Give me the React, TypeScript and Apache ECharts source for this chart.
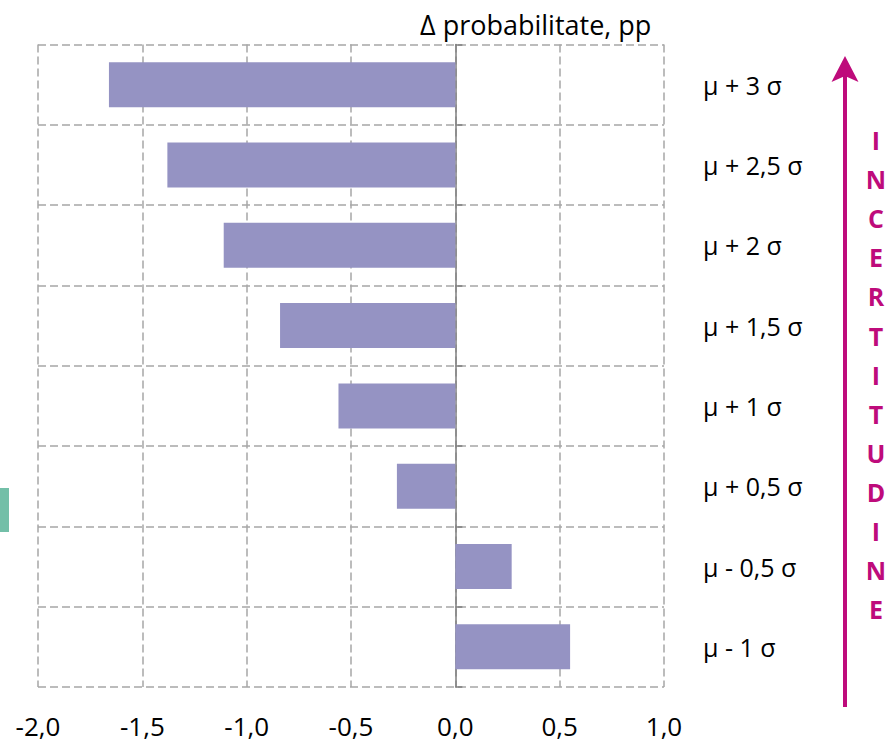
import React, { useEffect, useRef } from "react";
import * as echarts from "echarts";

const categories = ["μ + 3 σ", "μ + 2,5 σ", "μ + 2 σ", "μ + 1,5 σ", "μ + 1 σ", "μ + 0,5 σ", "μ - 0,5 σ", "μ - 1 σ"];
const values = [-1.66, -1.38, -1.11, -0.84, -0.56, -0.28, 0.27, 0.55];
const xMin = -2;
const xMax = 1;
const xInterval = 0.5;
const titleText = "Δ probabilitate, pp";
const sideLetters = ["I", "N", "C", "E", "R", "T", "I", "T", "U", "D", "I", "N", "E"];

const FONT = "'Open Sans', 'Noto Sans', sans-serif";
const MAGENTA = "#BE0B7B";
const GRID_LEFT = 38;
const GRID_RIGHT_PX = 664;
const ZERO_OFFSET = -((0 - xMin) / (xMax - xMin)) * (GRID_RIGHT_PX - GRID_LEFT);

export default function App() {
  const ref = useRef<HTMLDivElement>(null);
  useEffect(() => {
    if (!ref.current) return;
    const chart = echarts.init(ref.current, undefined, { renderer: "svg" });
    chart.setOption({
      animation: false,
      textStyle: { fontFamily: FONT },
      grid: { left: GRID_LEFT, right: 887 - GRID_RIGHT_PX, top: 44.5, bottom: 56, containLabel: false },
      xAxis: {
        type: "value",
        min: xMin,
        max: xMax,
        interval: xInterval,
        axisLine: { show: false },
        axisTick: { show: false },
        axisLabel: {
          color: "#000",
          fontSize: 26,
          fontFamily: FONT,
          margin: 26,
          formatter: (v: number) => v.toFixed(1).replace(".", ","),
        },
        splitLine: { show: true, lineStyle: { color: "#A6A6A6", width: 1.5, type: [8, 4] } },
      },
      yAxis: [
        {
          type: "category",
          data: categories,
          inverse: true,
          position: "right",
          axisLine: { show: false },
          axisTick: { show: false },
          axisLabel: { color: "#000", fontSize: 25, fontFamily: FONT, margin: 39, align: "left" },
          splitLine: { show: true, lineStyle: { color: "#A6A6A6", width: 1.5, type: [8, 4] } },
        },
        {
          type: "category",
          data: categories,
          inverse: true,
          position: "left",
          offset: ZERO_OFFSET,
          axisLine: { show: true, onZero: false, lineStyle: { color: "#7F7F7F", width: 1.5 } },
          axisTick: { show: true, inside: true, length: 7, lineStyle: { color: "#7F7F7F", width: 1.5 } },
          axisLabel: { show: false },
          splitLine: { show: false },
        },
      ],
      series: [
        {
          type: "bar",
          data: values,
          yAxisIndex: 0,
          barWidth: 45,
          itemStyle: { color: "#9593C3" },
          z: 1,
        },
      ],
      graphic: [
        {
          type: "text",
          x: 420,
          y: 24,
          style: { text: titleText, fontSize: 27, fontFamily: FONT, fill: "#000", textAlign: "left", textVerticalAlign: "middle" },
        },
        {
          type: "rect",
          shape: { x: 0, y: 488, width: 9, height: 44 },
          style: { fill: "#73BFA8" },
        },
        {
          type: "line",
          shape: { x1: 845, y1: 75, x2: 845, y2: 707 },
          style: { stroke: MAGENTA, lineWidth: 4 },
        },
        {
          type: "polygon",
          shape: { points: [[845, 56], [858.5, 82], [845, 76], [831.5, 82]] },
          style: { fill: MAGENTA },
        },
        ...sideLetters.map((ch, i) => ({
          type: "text",
          x: 876,
          y: 140 + i * 39.1,
          style: {
            text: ch,
            fontSize: 25,
            fontWeight: "bold",
            fontFamily: FONT,
            fill: MAGENTA,
            textAlign: "center",
            textVerticalAlign: "middle",
          },
        })),
      ],
    });
    return () => chart.dispose();
  }, []);
  return (
    <div
      ref={ref}
      style={{ position: "fixed", left: 0, top: 0, width: 887, height: 743, background: "#fff" }}
    />
  );
}
